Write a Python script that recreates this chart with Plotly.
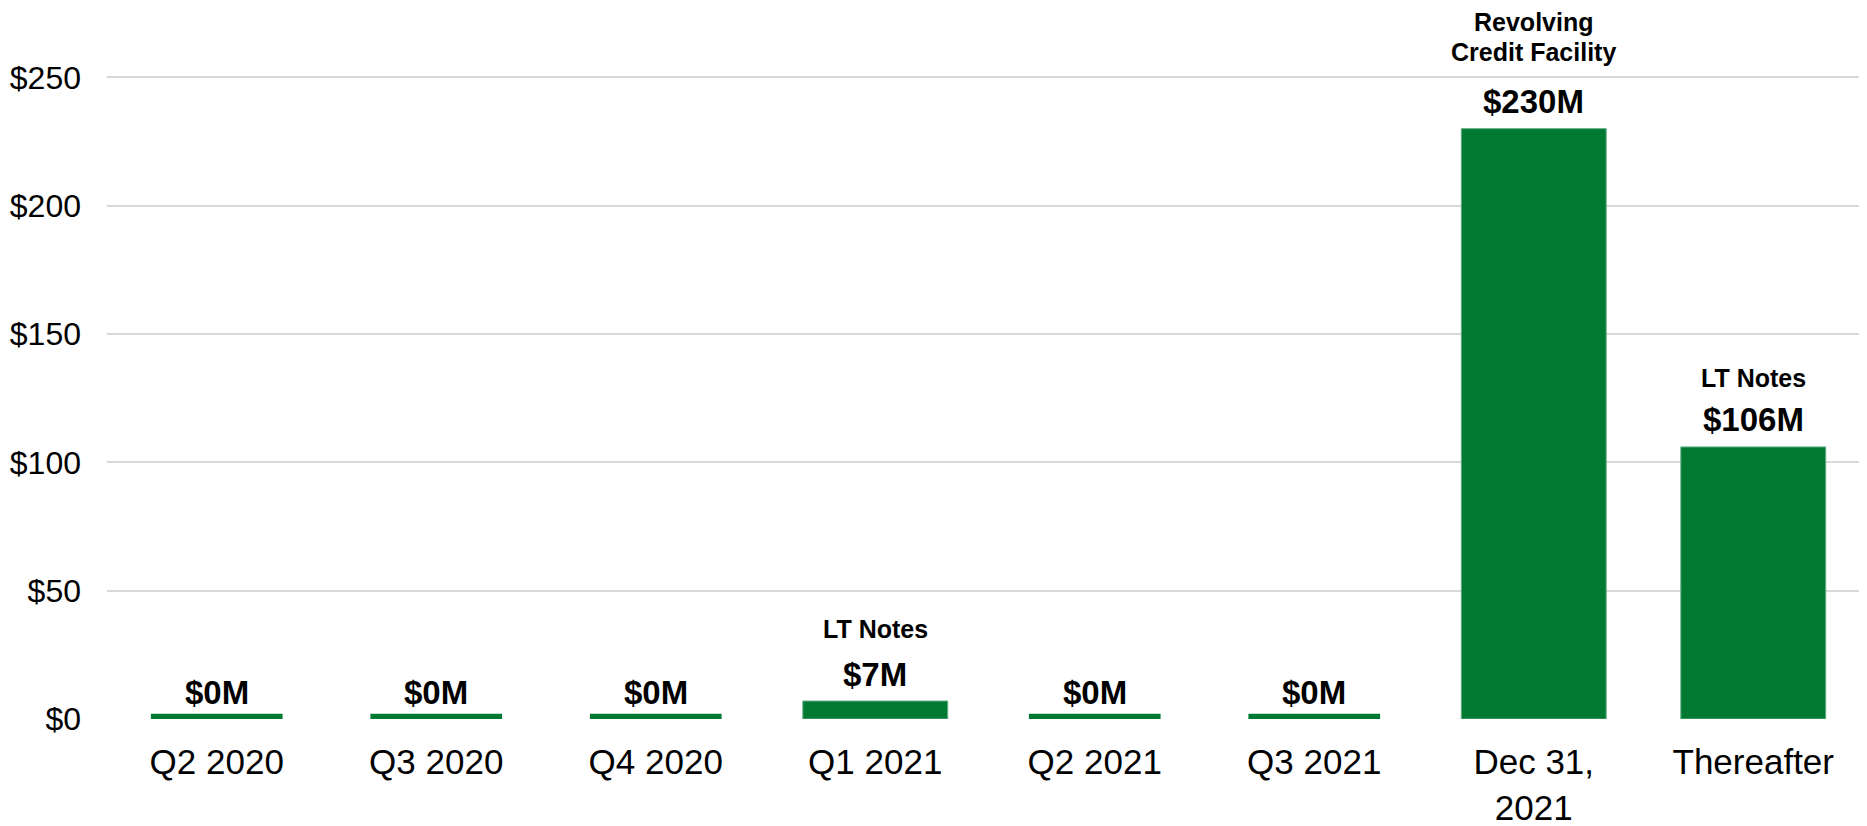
import plotly.graph_objects as go

categories = ["Q2 2020", "Q3 2020", "Q4 2020", "Q1 2021", "Q2 2021", "Q3 2021", "Dec 31,<br>2021", "Thereafter"]
# drawn bar heights ($M) (zero maturities shown as a thin sliver)
bar_heights = [2, 2, 2, 7, 2, 2, 230, 106]
value_labels = ["$0M", "$0M", "$0M", "$7M", "$0M", "$0M", "$230M", "$106M"]
bar_widths = [0.6, 0.6, 0.6, 0.66, 0.6, 0.6, 0.66, 0.66]
label_shift = [21, 21, 21, 27, 21, 21, 27, 27]
note_labels = ["", "", "", "LT Notes", "", "", "Credit Facility", "LT Notes"]
note_shift = [0, 0, 0, 72, 0, 0, 77, 69]
extra_labels = ["", "", "", "", "", "", "Revolving", ""]
extra_shift = [0, 0, 0, 0, 0, 0, 107, 0]
y_ticks = [0, 50, 100, 150, 200, 250]
y_tick_text = ["$" + str(v) for v in y_ticks]

GREEN = "#007A33"
FONT = "Liberation Sans, Arial, sans-serif"

fig = go.Figure()
fig.add_trace(go.Bar(
    x=categories, y=bar_heights, width=bar_widths,
    marker=dict(color=GREEN, line=dict(color="#5FAE80", width=[0, 0, 0, 1, 0, 0, 1, 1])),
    hoverinfo="skip", showlegend=False,
))

annotations = []
for i, c in enumerate(categories):
    annotations.append(dict(x=c, y=bar_heights[i], text=value_labels[i], showarrow=False,
                            yanchor="middle", yshift=label_shift[i],
                            font=dict(family=FONT, size=33, color="#000000", weight="bold")))
    if note_labels[i]:
        annotations.append(dict(x=c, y=bar_heights[i], text=note_labels[i], showarrow=False,
                                yanchor="middle", yshift=note_shift[i],
                                font=dict(family=FONT, size=25, color="#000000", weight="bold")))
    if extra_labels[i]:
        annotations.append(dict(x=c, y=bar_heights[i], text=extra_labels[i], showarrow=False,
                                yanchor="middle", yshift=extra_shift[i],
                                font=dict(family=FONT, size=25, color="#000000", weight="bold")))

# page body has an 8px default margin, so the figure is sized/offset to land on the reference grid
fig.update_layout(
    width=1859, height=818,
    margin=dict(l=99, r=4, t=18, b=107),
    paper_bgcolor="white", plot_bgcolor="white",
    annotations=annotations,
    xaxis=dict(showline=False, showgrid=False, ticks="", tickfont=dict(family=FONT, size=35, color="#000000"),
               range=[-0.5, 7.5], automargin=False, ticklabelstandoff=19),
    yaxis=dict(range=[0, 270], tickvals=y_ticks, ticktext=y_tick_text, showgrid=True, gridcolor="#D9D9D9",
               gridwidth=1.5, zeroline=False, showline=False, ticks="", automargin=False,
               tickfont=dict(family=FONT, size=32, color="#000000"), ticklabelstandoff=25),
    bargap=0.34,
)

fig.write_html("out.html")
